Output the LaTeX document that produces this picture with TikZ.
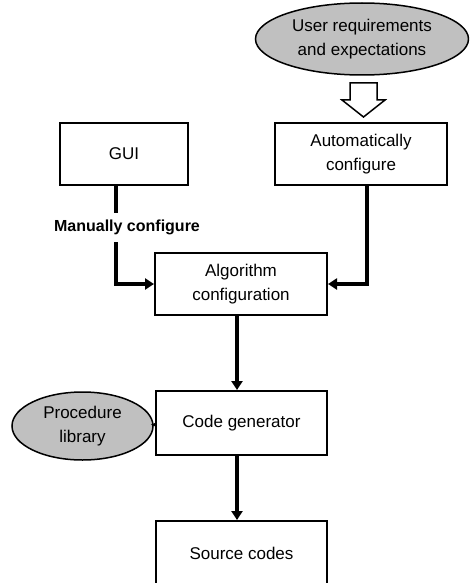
\documentclass[tikz,border=0pt]{standalone}
\usepackage{fontspec}
\setmainfont{Liberation Sans}
\usetikzlibrary{arrows.meta,shapes.geometric}
\definecolor{ellgray}{HTML}{C0C0C0}
\begin{document}
\begin{tikzpicture}[x=1pt,y=-1pt,
  txt/.style={font=\fontsize{17}{24}\selectfont, align=center},
  box/.style={txt, draw, line width=2pt, minimum width=172pt, minimum height=62pt, inner sep=0pt},
  oval/.style={txt, ellipse, draw, line width=1.5pt, fill=ellgray, inner sep=0pt},
  conn/.style={line width=4.5pt, -{Triangle[length=9pt,width=11pt]}}]
\clip (0,0) rectangle (469,583);
\fill[white] (0,0) rectangle (469,583);
% nodes
\node[oval, minimum width=213pt, minimum height=72pt] (user) at (362,39) {User requirements\\and expectations};
\node[box, minimum width=128pt] (gui) at (124,154) {GUI};
\node[box] (auto) at (361,154) {Automatically\\configure};
\node[box] (algo) at (241,284) {Algorithm\\configuration};
\node[box, minimum width=171pt, minimum height=64pt] (codegen) at (241.5,423) {Code generator};
\node[box, minimum width=171pt, minimum height=65pt] (source) at (241.5,553.5) {Source codes};
\node[oval, minimum width=141pt, minimum height=68pt] (proc) at (82.5,426) {Procedure\\library};
% hollow block arrow
\draw[line width=1.5pt, fill=white, line join=miter]
  (350,83) -- (377,83) -- (377,100) -- (385,100) -- (363.5,117) -- (342,100) -- (350,100) -- cycle;
% connectors
\coordinate (gx) at (116,0);
\coordinate (ax) at (367,0);
\coordinate (cx) at (237,0);
\draw[conn] (gui.south -| gx) |- (algo.west);
\node[fill=white, inner sep=0pt, minimum height=29pt, font=\bfseries\fontsize{16}{19}\selectfont] (manual) at (127,227) {Manually configure};
\draw[conn] (auto.south -| ax) |- (algo.east);
\draw[conn] (algo.south -| cx) -- (codegen.north -| cx);
\draw[conn] (codegen.south -| cx) -- (source.north -| cx);
\draw[line width=1pt, -{Triangle[length=3pt,width=6pt]}] (proc.east) -- (codegen.west);
\end{tikzpicture}
\end{document}
